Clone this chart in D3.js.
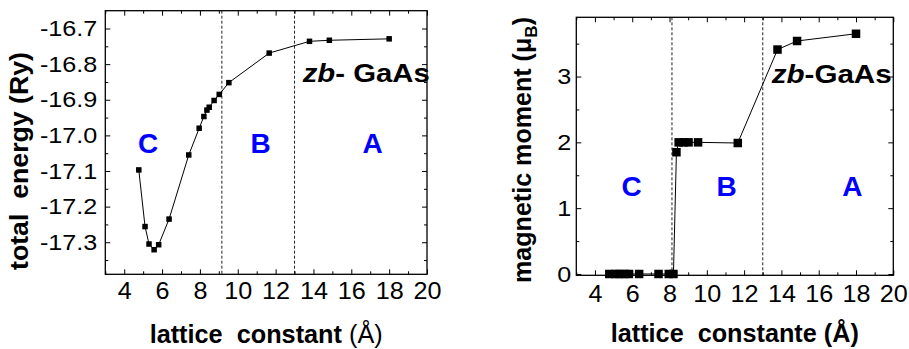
<!DOCTYPE html>
<html>
<head>
<meta charset="utf-8">
<script src="https://cdn.jsdelivr.net/npm/d3@7/dist/d3.min.js"></script>
<style>
  html, body { margin: 0; padding: 0; background: #fff; }
  svg { display: block; }
  text { font-family: "Liberation Sans", Arial, Helvetica, sans-serif; fill: #000; }
</style>
</head>
<body>
<svg id="chart" width="909" height="349"></svg>
<script>
// Lattice constants (Å) shared by both panels
const latticeConst = [4.77, 5.10, 5.31, 5.58, 5.82, 6.37, 7.41, 7.96, 8.21, 8.37, 8.49, 8.75, 9.02, 9.53, 11.66, 13.79, 14.84, 18.0];
// Total energy (Ry)
const totalEnergy = [-17.097, -17.256, -17.305, -17.321, -17.307, -17.235, -17.055, -16.980, -16.947, -16.929, -16.921, -16.902, -16.885, -16.852, -16.769, -16.736, -16.733, -16.729];
// Magnetic moment (μB)
const magMoment = [0, 0, 0, 0, 0, 0, 0, 0, 0, 1.85, 2.0, 2.0, 2.0, 2.0, 1.99, 3.41, 3.54, 3.65];

// Axis ticks
const xMajorTicks = [4, 6, 8, 10, 12, 14, 16, 18, 20];
const xMinorTicks = [3, 5, 7, 9, 11, 13, 15, 17, 19];
const energyMajorTicks = [-16.7, -16.8, -16.9, -17.0, -17.1, -17.2, -17.3];
const energyMinorTicks = [-16.75, -16.85, -16.95, -17.05, -17.15, -17.25, -17.35];
const momentMajorTicks = [0, 1, 2, 3];
const momentMinorTicks = [0.5, 1.5, 2.5, 3.5];

// Phase boundaries (Å) and region labels
const energyBoundaries = [9.16, 13.0];
const momentBoundaries = [8.13, 13.0];
const regionLabels = ["C", "B", "A"];

const svg = d3.select("#chart");

// Width of a tick label: wide digits, narrow decimal point and sign
function labelWidth(str, digitW) {
  let w = 0;
  for (const ch of str) {
    if (ch === ".") w += digitW * 0.47;
    else if (ch === "-") w += digitW * 0.69;
    else w += digitW;
  }
  return w;
}

function drawPanel(cfg) {
  const g = svg.append("g");
  const x = d3.scaleLinear().domain([3, 20]).range([cfg.left, cfg.right]);
  const y = d3.scaleLinear().domain(cfg.yDomain).range([cfg.bottom, cfg.top]);

  // dashed region boundaries
  g.selectAll("line.bound").data(cfg.boundaries).join("line")
    .attr("x1", d => x(d)).attr("x2", d => x(d))
    .attr("y1", cfg.top).attr("y2", cfg.bottom)
    .attr("stroke", "#222").attr("stroke-width", 1).attr("stroke-dasharray", "3,2");

  const noLabel = () => "";
  const inRange = v => v >= y.domain()[0] && v <= y.domain()[1];

  // bottom axis with labels
  g.append("g").attr("transform", `translate(0,${cfg.bottom})`)
    .call(d3.axisBottom(x).tickValues(xMajorTicks).tickSize(-5).tickPadding(cfg.xPad).tickFormat(d3.format("d")))
    .call(a => a.selectAll("text").attr("font-size", 24)
      .attr("textLength", function () { return labelWidth(this.textContent, 14); })
      .attr("lengthAdjust", "spacingAndGlyphs"));
  g.append("g").attr("transform", `translate(0,${cfg.bottom})`)
    .call(d3.axisBottom(x).tickValues(xMinorTicks).tickSize(-3).tickFormat(noLabel));
  // top axis ticks only
  g.append("g").attr("transform", `translate(0,${cfg.top})`)
    .call(d3.axisTop(x).tickValues(xMajorTicks).tickSize(-5).tickFormat(noLabel));
  g.append("g").attr("transform", `translate(0,${cfg.top})`)
    .call(d3.axisTop(x).tickValues(xMinorTicks).tickSize(-3).tickFormat(noLabel));
  // left axis with labels
  g.append("g").attr("transform", `translate(${cfg.left},0)`)
    .call(d3.axisLeft(y).tickValues(cfg.yMajor).tickSize(-5).tickPadding(cfg.yPad).tickFormat(cfg.yFormat))
    .call(a => a.selectAll("text").attr("font-size", 22.5)
      .attr("textLength", function () { return labelWidth(this.textContent, cfg.yDigitW); })
      .attr("lengthAdjust", "spacingAndGlyphs"));
  g.append("g").attr("transform", `translate(${cfg.left},0)`)
    .call(d3.axisLeft(y).tickValues(cfg.yMinor.filter(inRange)).tickSize(-3).tickFormat(noLabel));
  // right axis ticks only
  g.append("g").attr("transform", `translate(${cfg.right},0)`)
    .call(d3.axisRight(y).tickValues(cfg.yMajor).tickSize(-5).tickFormat(noLabel));
  g.append("g").attr("transform", `translate(${cfg.right},0)`)
    .call(d3.axisRight(y).tickValues(cfg.yMinor.filter(inRange)).tickSize(-3).tickFormat(noLabel));

  g.selectAll(".domain").remove();
  g.selectAll(".tick line").attr("stroke", "#000").attr("stroke-width", 1);

  // frame
  g.append("rect")
    .attr("x", cfg.left).attr("y", cfg.top)
    .attr("width", cfg.right - cfg.left).attr("height", cfg.bottom - cfg.top)
    .attr("fill", "none").attr("stroke", "#000").attr("stroke-width", 1.3);

  // connecting line
  const pts = latticeConst.map((v, i) => [v, cfg.values[i]]);
  g.append("path")
    .attr("d", d3.line().x(d => x(d[0])).y(d => y(d[1]))(pts))
    .attr("fill", "none").attr("stroke", "#000").attr("stroke-width", 1);

  // square markers
  const s = cfg.marker;
  g.selectAll("rect.pt").data(pts).join("rect")
    .attr("x", d => x(d[0]) - s / 2).attr("y", d => y(d[1]) - s / 2)
    .attr("width", s).attr("height", s).attr("fill", "#000");

  // region labels
  g.selectAll("text.region").data(regionLabels).join("text")
    .attr("x", (d, i) => cfg.regionX[i]).attr("y", cfg.regionY)
    .attr("text-anchor", "middle").attr("font-size", 28).attr("font-weight", "bold")
    .style("fill", "#0000ff").text(d => d);

  // compound label
  const t = g.append("text").attr("x", cfg.zbX).attr("y", cfg.zbY)
    .attr("font-size", 26).attr("font-weight", "bold")
    .attr("textLength", cfg.zbLen).attr("lengthAdjust", "spacingAndGlyphs");
  t.append("tspan").attr("font-style", "italic").text("zb");
  t.append("tspan").text(cfg.zbRest);

  // x title
  const xt = g.append("text").attr("x", (cfg.left + cfg.right) / 2).attr("y", cfg.xTitleY)
    .attr("text-anchor", "middle").attr("font-size", 25).attr("font-weight", "bold")
    .attr("textLength", cfg.xTitleLen).attr("lengthAdjust", "spacingAndGlyphs")
    .style("white-space", "pre");
  xt.append("tspan").text(cfg.xTitle);
  xt.append("tspan").attr("font-weight", cfg.angBold ? "bold" : "normal").text("(Å)");

  // y title
  const yt = g.append("text")
    .attr("transform", `translate(${cfg.yTitleX},${cfg.yTitleCY}) rotate(-90)`)
    .attr("text-anchor", "middle").attr("font-size", 25).attr("font-weight", "bold")
    .attr("textLength", cfg.yTitleLen).attr("lengthAdjust", "spacingAndGlyphs")
    .style("white-space", "pre");
  cfg.yTitle(yt);
}

drawPanel({
  left: 105.3, right: 427, top: 10.7, bottom: 274.3,
  yDomain: [-17.39, -16.65],
  yMajor: energyMajorTicks, yMinor: energyMinorTicks,
  yFormat: d => d.toFixed(1), yDigitW: 13.8,
  xPad: 8, yPad: 8,
  boundaries: energyBoundaries,
  values: totalEnergy, marker: 5.5,
  regionX: [148, 260.5, 372.5], regionY: 152.7,
  zbX: 302.7, zbY: 81.7, zbLen: 127, zbRest: "- GaAs",
  xTitle: "lattice  constant ", xTitleY: 343, xTitleLen: 233, angBold: false,
  yTitleX: 28, yTitleCY: 161, yTitleLen: 218,
  yTitle: t => t.text("total  energy (Ry)")
});

drawPanel({
  left: 576.3, right: 893.3, top: 17.3, bottom: 275.3,
  yDomain: [-0.02, 3.9],
  yMajor: momentMajorTicks, yMinor: momentMinorTicks,
  yFormat: d3.format("d"), yDigitW: 14,
  xPad: 9.5, yPad: 5,
  boundaries: momentBoundaries,
  values: magMoment, marker: 8.5,
  regionX: [631.7, 726.7, 852.3], regionY: 196,
  zbX: 771.7, zbY: 82.7, zbLen: 120, zbRest: "-GaAs",
  xTitle: "lattice  constante ", xTitleY: 341.7, xTitleLen: 248, angBold: true,
  yTitleX: 531, yTitleCY: 150, yTitleLen: 266,
  yTitle: t => {
    t.append("tspan").text("magnetic moment (μ");
    t.append("tspan").attr("font-size", 17).attr("dy", 6).text("B");
    t.append("tspan").attr("dy", -6).text(")");
  }
});
</script>
</body>
</html>
